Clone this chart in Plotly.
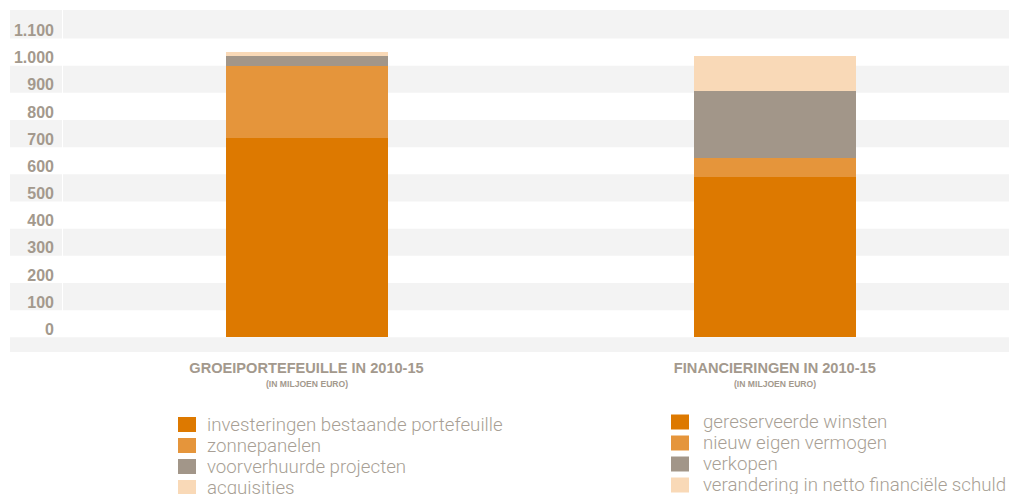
import plotly.graph_objects as go

# ---------------- data ----------------
categories = ["GROEIPORTEFEUILLE IN 2010-15", "FINANCIERINGEN IN 2010-15"]
subtitle = "(IN MILJOEN EURO)"

groei_series = ["investeringen bestaande portefeuille", "zonnepanelen",
                "voorverhuurde projecten", "acquisities"]
groei_values = [734, 266, 36, 14]

fin_series = ["gereserveerde winsten", "nieuw eigen vermogen", "verkopen",
              "verandering in netto financiële schuld"]
fin_values = [591, 70, 246, 129]

tick_values = [0, 100, 200, 300, 400, 500, 600, 700, 800, 900, 1000, 1100]
tick_labels = ["0", "100", "200", "300", "400", "500", "600", "700", "800",
               "900", "1.000", "1.100"]

colors = ["#dd7900", "#e5953b", "#a29689", "#f9d9b7"]

# ---------------- style ----------------
VIEW_W, VIEW_H = 1009, 494
L, R, T, B = 63, 1009, 10, 352   # plot area in page pixels
Y_MIN, Y_MAX = -54, 1205
BAND = "#f3f3f3"
AXIS_TXT = "#a3998d"
LEG_TXT = "#a89f95"
BOLD_FONT = "Liberation Sans, Arial, sans-serif"


def px_x(px):
    return (px - L) / (R - L)


def px_y(py):
    return (B - py) / (B - T)


def val_y(v):
    return (v - Y_MIN) / (Y_MAX - Y_MIN)


fig = go.Figure()

for name, val, col in zip(groei_series, groei_values, colors):
    fig.add_trace(go.Bar(x=[categories[0]], y=[val], name=name,
                         marker=dict(color=col, line=dict(width=0)),
                         width=0.346, showlegend=False,
                         hovertemplate="%{y}<extra>" + name + "</extra>"))
for name, val, col in zip(fin_series, fin_values, colors):
    fig.add_trace(go.Bar(x=[categories[1]], y=[val], name=name,
                         marker=dict(color=col, line=dict(width=0)),
                         width=0.346, showlegend=False,
                         hovertemplate="%{y}<extra>" + name + "</extra>"))

shapes = []
# alternating horizontal bands
bounds = [Y_MIN] + tick_values + [Y_MAX]
for j in range(len(bounds) - 1):
    if j % 2 == 0:
        y0, y1 = val_y(bounds[j]), val_y(bounds[j + 1])
        if j == 0:
            shapes.append(dict(type="rect", xref="paper", yref="paper",
                               x0=px_x(10), x1=1, y0=y0, y1=y1,
                               fillcolor=BAND, line=dict(width=0), layer="below"))
        else:
            shapes.append(dict(type="rect", xref="paper", yref="paper",
                               x0=px_x(10), x1=px_x(62), y0=y0, y1=y1,
                               fillcolor=BAND, line=dict(width=0), layer="below"))
            shapes.append(dict(type="rect", xref="paper", yref="paper",
                               x0=0, x1=1, y0=y0, y1=y1,
                               fillcolor=BAND, line=dict(width=0), layer="below"))

annotations = []
# subtitles under category labels
for cat in categories:
    annotations.append(dict(x=cat, xref="x", y=px_y(383.5), yref="paper",
                            text=subtitle, showarrow=False, xanchor="center",
                            yanchor="middle",
                            font=dict(family=BOLD_FONT, size=8.6,
                                      color=AXIS_TXT, weight=700)))

# legends (two blocks)
legend_blocks = [
    (groei_series, 178, 205, 424.5),
    (fin_series, 671, 701, 422.0),
]
for names, sq_x, txt_x, row0 in legend_blocks:
    for i, (name, col) in enumerate(zip(names, colors)):
        cy = row0 + i * 21.0
        shapes.append(dict(type="rect", xref="paper", yref="paper",
                           x0=px_x(sq_x), x1=px_x(sq_x + 18),
                           y0=px_y(cy + 7.5), y1=px_y(cy - 7.5),
                           fillcolor=col, line=dict(width=0)))
        annotations.append(dict(x=px_x(txt_x), y=px_y(cy), xref="paper",
                                yref="paper", text=name, showarrow=False,
                                xanchor="left", yanchor="middle",
                                font=dict(family="Roboto, sans-serif", size=18.7,
                                          color=LEG_TXT, weight=300)))

fig.update_layout(
    width=VIEW_W, height=VIEW_H,
    margin=dict(l=L, r=VIEW_W - R, t=T, b=VIEW_H - B, pad=0),
    paper_bgcolor="white", plot_bgcolor="white",
    barmode="stack", bargap=0,
    showlegend=False,
    shapes=shapes, annotations=annotations,
    xaxis=dict(type="category", categoryorder="array",
               categoryarray=categories, range=[-0.52, 1.5],
               showgrid=False, zeroline=False, showline=False, ticks="",
               ticklabelstandoff=5,
               tickfont=dict(family=BOLD_FONT, size=14.6, color=AXIS_TXT,
                             weight=700)),
    yaxis=dict(range=[Y_MIN, Y_MAX], tickvals=tick_values,
               ticktext=tick_labels, showgrid=False, zeroline=False,
               showline=False, ticks="", ticklabelstandoff=8,
               ticklabelshift=-8,
               tickfont=dict(family=BOLD_FONT, size=16, color=AXIS_TXT,
                             weight=700)),
)

fig.write_html(
    "out.html",
    config={"displayModeBar": False},
    post_script=("document.body.style.margin='0';"
                 "document.body.style.overflow='hidden';"
                 "document.documentElement.style.overflow='hidden';"),
)
